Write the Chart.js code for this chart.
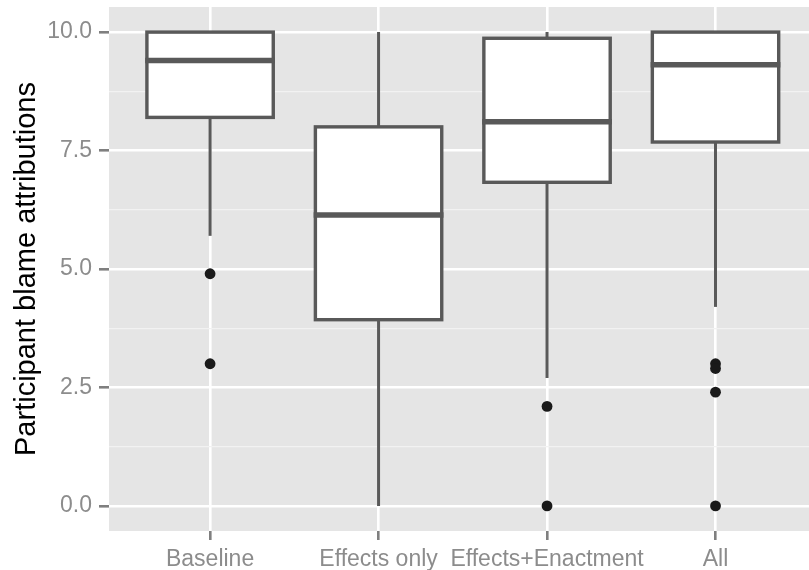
<!DOCTYPE html>
<html>
<head>
<meta charset="utf-8">
<script src="https://cdn.jsdelivr.net/npm/chart.js@4.4.0/dist/chart.umd.min.js"></script>
<style>
  html, body { margin: 0; padding: 0; background: #fff; overflow: hidden; }
</style>
</head>
<body>
<canvas id="box" width="822" height="570"></canvas>
<script>
// values
const groups = ["Baseline", "Effects only", "Effects+Enactment", "All"];
const lowerWhisker = [5.7, 0, 2.7, 4.2];
const q1 = [8.2, 3.93, 6.83, 7.68];
const median = [9.4, 6.14, 8.11, 9.31];
const q3 = [10, 8.0, 9.87, 10];
const upperWhisker = [10, 10, 10, 10];
const outlierGroup = [0, 0, 2, 2, 3, 3, 3, 3];
const outlierValue = [4.9, 3.0, 2.1, 0, 3.0, 2.9, 2.4, 0];
const yTicks = [0, 2.5, 5, 7.5, 10];
const yMinor = [1.25, 3.75, 6.25, 8.75];

const font = "'Liberation Sans', Arial, sans-serif";
const lineCol = "#595959";
const tickCol = "#8c8c8c";

const panelBg = {
  id: "panelBg",
  beforeDraw(chart) {
    const { ctx, chartArea: a } = chart;
    ctx.save();
    ctx.fillStyle = "#e5e5e5";
    ctx.fillRect(a.left, a.top, a.right - a.left, a.bottom - a.top);
    ctx.restore();
  }
};

const boxParts = {
  id: "boxParts",
  afterDatasetDraw(chart, args) {
    if (args.index !== 0) return;
    const { ctx } = chart;
    const y = chart.scales.y;
    const bars = chart.getDatasetMeta(0).data;
    ctx.save();
    ctx.strokeStyle = lineCol;
    bars.forEach((bar, i) => {
      const cx = bar.x;
      const half = bar.width / 2;
      // whiskers
      ctx.lineWidth = 3;
      ctx.beginPath();
      ctx.moveTo(cx, y.getPixelForValue(q3[i]));
      ctx.lineTo(cx, y.getPixelForValue(upperWhisker[i]));
      ctx.moveTo(cx, y.getPixelForValue(q1[i]));
      ctx.lineTo(cx, y.getPixelForValue(lowerWhisker[i]));
      ctx.stroke();
      // box outline
      const top = y.getPixelForValue(q3[i]);
      const bot = y.getPixelForValue(q1[i]);
      ctx.fillStyle = "#fff";
      ctx.fillRect(cx - half, top, bar.width, bot - top);
      ctx.lineWidth = 3.4;
      ctx.strokeRect(cx - half, top, bar.width, bot - top);
      // median
      ctx.lineWidth = 5.5;
      ctx.beginPath();
      const my = y.getPixelForValue(median[i]);
      ctx.moveTo(cx - half - 1.7, my);
      ctx.lineTo(cx + half + 1.7, my);
      ctx.stroke();
    });
    ctx.restore();
  }
};

new Chart(document.getElementById("box"), {
  data: {
    datasets: [
      {
        type: "bar",
        data: groups.map((g, i) => ({ x: i, y: [q1[i], q3[i]] })),
        backgroundColor: "#ffffff",
        borderWidth: 0,
        barPercentage: 0.75,
        categoryPercentage: 1,
        order: 2
      },
      {
        type: "scatter",
        data: outlierValue.map((v, i) => ({ x: outlierGroup[i], y: v })),
        pointRadius: 5.4,
        pointBackgroundColor: "#1a1a1a",
        pointBorderWidth: 0,
        order: 1
      }
    ]
  },
  options: {
    responsive: false,
    animation: false,
    layout: { padding: { left: 10, top: 7, right: 1, bottom: 0 } },
    plugins: { legend: { display: false }, tooltip: { enabled: false } },
    scales: {
      x: {
        type: "linear",
        min: -0.6,
        max: 3.6,
        offset: false,
        afterBuildTicks: (axis) => { axis.ticks = groups.map((g, i) => ({ value: i })); },
        afterFit: (axis) => {
          axis.height = 39;
          axis.paddingLeft = 0;
          axis.paddingRight = 0;
        },
        border: { display: false },
        grid: {
          offset: false,
          color: "#ffffff",
          lineWidth: 2.6,
          tickColor: "#7f7f7f",
          tickWidth: 2.6,
          tickLength: 9
        },
        ticks: {
          callback: (v) => groups[v],
          color: tickCol,
          font: { family: font, size: 23 },
          padding: 6,
          maxRotation: 0,
          autoSkip: false
        }
      },
      y: {
        min: -0.53,
        max: 10.53,
        afterBuildTicks: (axis) => {
          axis.ticks = yTicks.concat(yMinor).sort((a, b) => a - b).map(v => ({ value: v }));
        },
        afterFit: (axis) => {
          axis.width = 99;
          axis.paddingTop = 0;
          axis.paddingBottom = 0;
        },
        border: { display: false },
        grid: {
          color: (c) => yTicks.includes(c.tick.value) ? "#ffffff" : "#f2f2f2",
          lineWidth: (c) => yTicks.includes(c.tick.value) ? 2.6 : 1.3,
          tickColor: (c) => yTicks.includes(c.tick.value) ? "#7f7f7f" : "rgba(0,0,0,0)",
          tickWidth: 2.6,
          tickLength: 10
        },
        ticks: {
          callback: (v) => yTicks.includes(v) ? v.toFixed(1) : "",
          color: tickCol,
          font: { family: font, size: 23 },
          padding: 7
        },
        title: {
          display: true,
          text: "Participant blame attributions",
          color: "#000",
          font: { family: font, size: 29 },
          padding: 0
        }
      }
    }
  },
  plugins: [panelBg, boxParts]
});
</script>
</body>
</html>
